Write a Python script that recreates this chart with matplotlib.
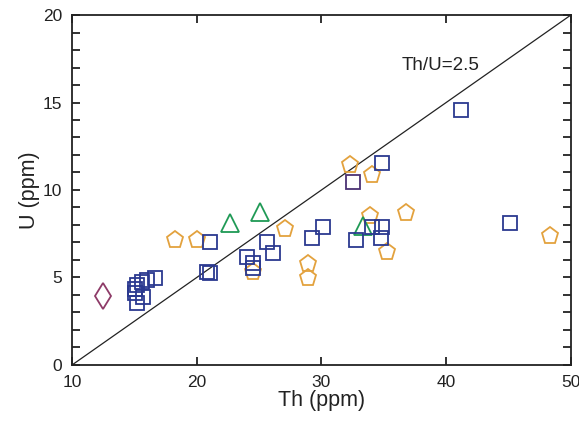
import matplotlib
matplotlib.use("Agg")
import matplotlib.pyplot as plt
from matplotlib.ticker import MultipleLocator

plt.rcParams['font.family'] = ['Liberation Sans', 'DejaVu Sans']

# Squares (navy)
sq_th = [41.2, 34.83, 45.1, 30.15, 29.22, 32.77, 34.03, 34.83, 34.75,
         21.07, 25.6, 26.14, 24.0, 24.54, 24.54, 20.8, 21.07,
         15.05, 15.19, 15.59, 15.99, 16.66, 15.05, 15.19, 15.72]
sq_u = [14.57, 11.52, 8.1, 7.9, 7.24, 7.14, 7.9, 7.9, 7.24,
        7.05, 7.05, 6.38, 6.19, 5.81, 5.52, 5.33, 5.24,
        4.34, 4.57, 4.76, 4.86, 4.95, 4.10, 3.52, 3.90]
# Square (purple-ish)
sqp_th = [32.56]
sqp_u = [10.45]
# Pentagons (orange)
pe_th = [18.26, 20.05, 27.08, 24.54, 28.95, 28.95, 32.3, 34.03, 36.8, 33.9, 35.24, 48.3]
pe_u = [7.14, 7.14, 7.75, 5.3, 5.75, 4.95, 11.43, 10.86, 8.67, 8.5, 6.48, 7.37]
# Triangles (green)
tr_th = [22.67, 25.08, 33.3]
tr_u = [8.1, 8.76, 7.95]
# Diamond (maroon)
di_th = [12.46]
di_u = [3.94]
# Reference line Th/U
line_th = [10, 50]
line_u = [0, 20]

fig = plt.figure(figsize=(5.79, 4.24), dpi=100)
ax = fig.add_axes([0.1244, 0.1392, 0.8616, 0.8254])

ax.plot(line_th, line_u, color='#222222', lw=0.9, zorder=1)

ax.plot(pe_th, pe_u, linestyle='none', marker='p', ms=12.5, mfc='none',
        mec='#E3A23E', mew=1.3, zorder=2)
ax.plot(tr_th, tr_u, linestyle='none', marker='^', ms=12.5, mfc='none',
        mec='#1F9A55', mew=1.3, zorder=2)
ax.plot(sq_th, sq_u, linestyle='none', marker='s', ms=10, mfc='none',
        mec='#2B3990', mew=1.3, zorder=3)
ax.plot(sqp_th, sqp_u, linestyle='none', marker='s', ms=10, mfc='none',
        mec='#4B3174', mew=1.3, zorder=3)
ax.plot(di_th, di_u, linestyle='none', marker='d', ms=13, mfc='none',
        mec='#8E3B68', mew=1.3, zorder=3)

ax.set_xlim(10, 50)
ax.set_ylim(0, 20)
ax.xaxis.set_major_locator(MultipleLocator(10))
ax.yaxis.set_major_locator(MultipleLocator(5))
ax.yaxis.set_minor_locator(MultipleLocator(1))

ax.tick_params(axis='both', which='both', direction='in', length=6, width=1.3,
               top=True, right=True, labelsize=12.5, pad=7, colors='#222222')
for s in ax.spines.values():
    s.set_linewidth(1.3)
    s.set_color('#222222')

ax.text(36.4, 16.85, 'Th/U=2.5', fontsize=13.5, color='#222222')

ax.set_xlabel('Th (ppm)', fontsize=15.5, labelpad=0, color='#222222')
ax.set_ylabel('U (ppm)', fontsize=15.5, labelpad=2, color='#222222')

fig.savefig('out.png', dpi=100)
